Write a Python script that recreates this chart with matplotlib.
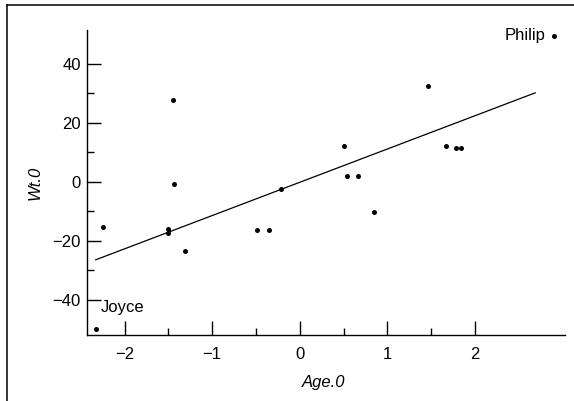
import matplotlib
matplotlib.use("Agg")
import matplotlib.pyplot as plt
from matplotlib.ticker import FixedLocator
from matplotlib.lines import Line2D

plt.rcParams['font.family'] = ['Liberation Sans', 'DejaVu Sans']

# Data
age0 = [-2.33, -2.25, -1.51, -1.50, -1.31, -1.45, -1.44, -0.49, -0.35, -0.21,
        0.51, 0.54, 0.66, 0.85, 1.46, 1.67, 1.78, 1.84, 2.90]
wt0 = [-49.8, -15.3, -15.9, -17.3, -23.4, 27.8, -0.7, -16.3, -16.3, -2.4,
       12.2, 2.0, 2.0, -10.2, 32.6, 12.2, 11.6, 11.6, 49.6]
fit_x = [-2.33, 2.69]
fit_y = [-26.4, 30.2]
labels = {"Philip": (2.90, 49.6), "Joyce": (-2.33, -49.8)}
xticks = [-2, -1, 0, 1, 2]
yticks = [-40, -20, 0, 20, 40]
xminor = [-1.5, -0.5, 0.5, 1.5]
yminor = [-30, -10, 10, 30]

FS = 12
W, H = 574, 401
fig = plt.figure(figsize=(W / 100, H / 100), dpi=100)
ax = fig.add_axes([87 / W, (H - 335) / H, (565 - 87) / W, (335 - 30) / H])

ax.plot(fit_x, fit_y, color='black', lw=0.9)
ax.plot(age0, wt0, 'o', color='black', ms=3.6, mew=0)

ax.annotate("Philip", labels["Philip"], xytext=(-6, 0), textcoords='offset points',
            ha='right', va='center', fontsize=FS)
ax.annotate("Joyce", labels["Joyce"], xytext=(3.8, 12), textcoords='offset points',
            ha='left', va='baseline', fontsize=FS)

ax.set_xlim(-2.43, 3.03)
ax.set_ylim(-51.9, 51.5)
ax.set_xticks(xticks)
ax.set_yticks(yticks)
ax.set_xticklabels(['\u2212' + str(-t) if t < 0 else str(t) for t in xticks])
ax.set_yticklabels(['\u2212' + str(-t) if t < 0 else str(t) for t in yticks])
ax.xaxis.set_minor_locator(FixedLocator(xminor))
ax.yaxis.set_minor_locator(FixedLocator(yminor))
ax.tick_params(which='major', direction='in', length=10, width=1.0, labelsize=FS, pad=4.5)
ax.tick_params(axis='x', which='major', pad=8.5)
ax.tick_params(which='minor', direction='in', length=5, width=1.0)

for s in ['top', 'right']:
    ax.spines[s].set_visible(False)
for s in ['left', 'bottom']:
    ax.spines[s].set_linewidth(1.0)

ax.set_xlabel("Age.0", fontsize=FS, style='italic')
ax.xaxis.set_label_coords(0.495, -0.1705)
ax.xaxis.label.set_va('baseline')
ax.set_ylabel("Wt.0", fontsize=FS, style='italic')
ax.yaxis.set_label_coords(-0.092, 0.498)

# outer frame (cropped)
fig.add_artist(Line2D([7.3 / W, 1.0], [1 - 4.7 / H, 1 - 4.7 / H], color='black', lw=1.1))
fig.add_artist(Line2D([7.3 / W, 7.3 / W], [0, 1 - 4.7 / H], color='black', lw=1.1))

fig.savefig("out.png", dpi=100)
